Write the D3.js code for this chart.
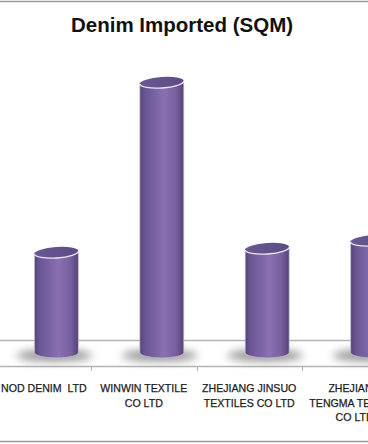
<!DOCTYPE html>
<html lang="en">

<head>
    <meta charset="UTF-8">
    <title>Denim Imported (SQM)</title>
    <script src="https://d3js.org/d3.v7.min.js"></script>
    <style>
        body {
            margin: 0;
            background: #ffffff;
        }

        svg {
            display: block;
        }

        .label {
            font-family: "Liberation Sans", Arial, sans-serif;
            font-size: 10.6px;
            fill: #1c1c1c;
            stroke: #1c1c1c;
            stroke-width: 0.25px;
            white-space: pre;
        }

        .title {
            font-family: "Liberation Sans", Arial, sans-serif;
            font-size: 20.5px;
            font-weight: bold;
            fill: #111;
        }
    </style>
</head>

<body>
    <script>
        // Chart data (SQM)
        const categories = ["NOD DENIM LTD", "WINWIN TEXTILE CO LTD", "ZHEJIANG JINSUO TEXTILES CO LTD", "ZHEJIANG TENGMA TEXTILE CO LTD"];
        const labelLines = [["NOD DENIM  LTD"], ["WINWIN TEXTILE", "CO LTD"], ["ZHEJIANG JINSUO", "TEXTILES CO LTD"], ["ZHEJIANG", "TENGMA TEXTILE", "CO LTD"]];
        const values = [100000, 270000, 104000, 112000];

        const width = 368, height = 444;

        const svg = d3.select("body")
            .append("svg")
            .attr("width", width)
            .attr("height", height);

        // Scales
        const x = d3.scaleBand()
            .domain(categories)
            .range([-14.3, 407.3])
            .padding(0);

        const floorBack = 340, floorFront = 366;
        const baseY = 352.5;   // cylinder base sits mid-depth of the floor
        const depthShift = 18; // oblique 3D shift of the bars to the right
        const rx = 22, ry = 5.5;

        const y = d3.scaleLinear()
            .domain([0, 300000])
            .range([baseY, baseY - 300]);

        const defs = svg.append("defs");

        const grad = defs.append("linearGradient")
            .attr("id", "body")
            .attr("x1", "0").attr("x2", "1").attr("y1", "0").attr("y2", "0");
        [["0%", "#564478"], ["12%", "#6a5694"], ["55%", "#8a70b1"], ["82%", "#7760a0"], ["100%", "#544276"]]
            .forEach(s => grad.append("stop").attr("offset", s[0]).attr("stop-color", s[1]));

        const topGrad = defs.append("linearGradient")
            .attr("id", "top")
            .attr("x1", "0").attr("x2", "1").attr("y1", "0").attr("y2", "0");
        [["0%", "#6a5893"], ["100%", "#5d4b85"]]
            .forEach(s => topGrad.append("stop").attr("offset", s[0]).attr("stop-color", s[1]));

        defs.append("filter")
            .attr("id", "blur")
            .attr("x", "-50%").attr("y", "-100%").attr("width", "200%").attr("height", "300%")
            .append("feGaussianBlur")
            .attr("stdDeviation", 4);

        // Outer border lines (chart area is cropped)
        svg.append("line")
            .attr("x1", 0).attr("x2", width).attr("y1", 1.5).attr("y2", 1.5)
            .attr("stroke", "#9c9c9c").attr("stroke-width", 1.5);
        svg.append("line")
            .attr("x1", 0).attr("x2", width).attr("y1", 441.5).attr("y2", 441.5)
            .attr("stroke", "#9c9c9c").attr("stroke-width", 1.5);

        // Title
        svg.append("text")
            .attr("class", "title")
            .attr("x", 182)
            .attr("y", 32)
            .attr("text-anchor", "middle")
            .text("Denim Imported (SQM)");

        // Floor
        svg.append("line")
            .attr("x1", 0).attr("x2", width).attr("y1", floorBack + 0.5).attr("y2", floorBack + 0.5)
            .attr("stroke", "#b4b4b4").attr("stroke-width", 1.3);
        svg.append("line")
            .attr("x1", 0).attr("x2", width).attr("y1", floorFront + 0.5).attr("y2", floorFront + 0.5)
            .attr("stroke", "#b4b4b4").attr("stroke-width", 1.3);

        // Tick marks at category boundaries
        svg.selectAll(".tick")
            .data(categories.slice(1))
            .join("line")
            .attr("class", "tick")
            .attr("x1", d => Math.round(x(d)) + 0.5)
            .attr("x2", d => Math.round(x(d)) + 0.5)
            .attr("y1", floorFront)
            .attr("y2", floorFront + 5)
            .attr("stroke", "#b4b4b4");

        const cx = d => x(d) + x.bandwidth() / 2 + depthShift;

        const bars = svg.selectAll(".bar")
            .data(categories.map((c, i) => ({ c, v: values[i] })))
            .join("g")
            .attr("class", "bar");

        // soft floor shadow
        bars.append("ellipse")
            .attr("cx", d => cx(d.c) - 2)
            .attr("cy", baseY + 3)
            .attr("rx", rx + 16)
            .attr("ry", 6)
            .attr("fill", "#727272")
            .attr("opacity", 0.75)
            .attr("filter", "url(#blur)");

        // cylinder body
        bars.append("path")
            .attr("d", d => {
                const c = cx(d.c), t = y(d.v);
                return `M${c - rx},${t} L${c - rx},${baseY} A${rx},${ry} 0 0 0 ${c + rx},${baseY} L${c + rx},${t} Z`;
            })
            .attr("fill", "url(#body)")
            .attr("stroke", "#cfc8dc")
            .attr("stroke-width", 0.7);

        // cylinder top
        bars.append("ellipse")
            .attr("cx", d => cx(d.c))
            .attr("cy", d => y(d.v))
            .attr("rx", rx)
            .attr("ry", ry)
            .attr("fill", "url(#top)")
            .attr("transform", d => `rotate(-4, ${cx(d.c)}, ${y(d.v)})`);

        // bright rim on the front edge of the top
        bars.append("path")
            .attr("d", d => {
                const c = cx(d.c), t = y(d.v);
                return `M${c - rx},${t} A${rx},${ry} 0 0 0 ${c + rx},${t}`;
            })
            .attr("fill", "none")
            .attr("stroke", "#ebe7f2")
            .attr("stroke-width", 1.3)
            .attr("transform", d => `rotate(-4, ${cx(d.c)}, ${y(d.v)})`);

        // Category labels
        const labels = svg.selectAll(".label")
            .data(categories.map((c, i) => ({ c, lines: labelLines[i] })))
            .join("text")
            .attr("class", "label")
            .attr("text-anchor", "middle")
            .attr("x", d => x(d.c) + x.bandwidth() / 2)
            .attr("y", 392);

        labels.selectAll("tspan")
            .data(d => d.lines.map(l => ({ l, px: x(d.c) + x.bandwidth() / 2 })))
            .join("tspan")
            .attr("x", d => d.px)
            .attr("dy", (d, i) => i === 0 ? 0 : 14.6)
            .text(d => d.l);

        // keep labels from running off the left edge
        labels.each(function () {
            const b = this.getBBox();
            if (b.x < 1) {
                const shift = 1 - b.x;
                d3.select(this).selectAll("tspan").attr("x", d => d.px + shift);
            }
        });
    </script>
</body>

</html>
